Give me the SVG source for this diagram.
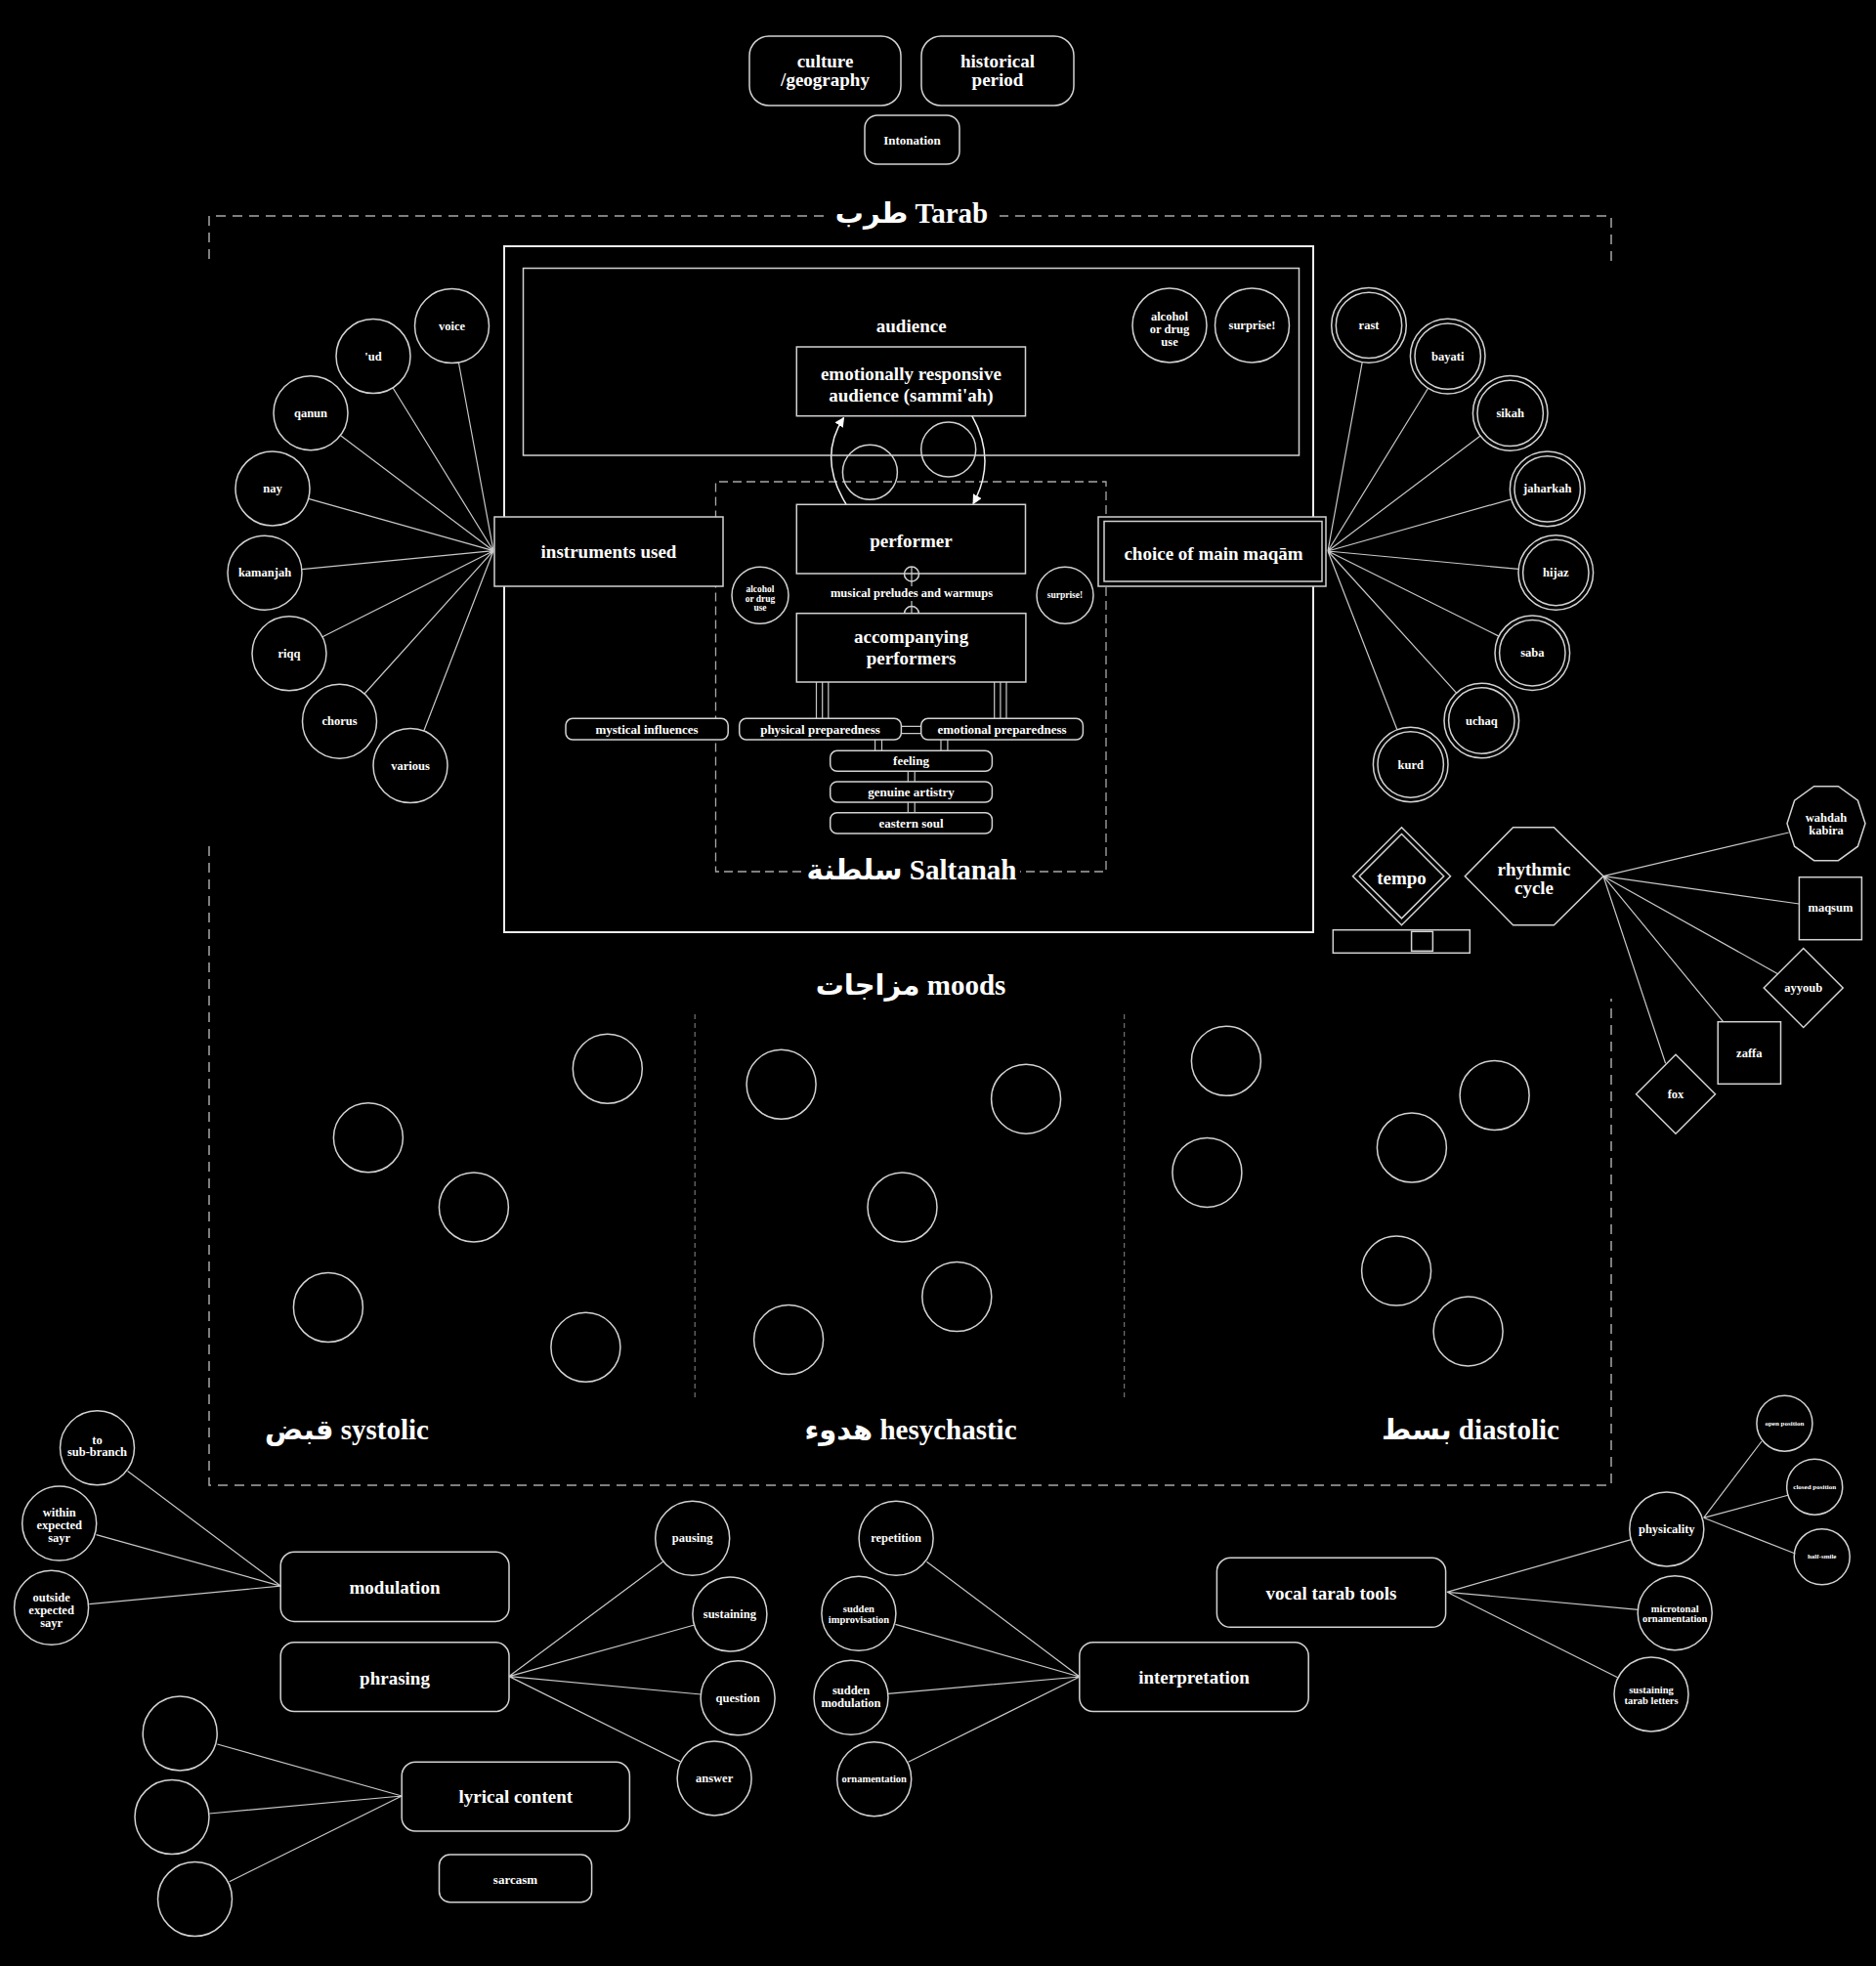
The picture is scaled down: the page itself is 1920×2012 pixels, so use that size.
<svg xmlns="http://www.w3.org/2000/svg" width="1920" height="2012" viewBox="0 0 1920 2012">
<defs>
<style>
.bg{fill:#000}
.n{fill:none;stroke:#d2d2d2;stroke-width:1.5}
.nb{fill:#000;stroke:#d2d2d2;stroke-width:1.5}
.outer{fill:none;stroke:#ececec;stroke-width:2}
.c{fill:none;stroke:#c8c8c8;stroke-width:1.2}
.dash{fill:none;stroke:#a8a8a8;stroke-width:1.5;stroke-dasharray:10 7}
.dash2{fill:none;stroke:#a8a8a8;stroke-width:1.3;stroke-dasharray:9 5}
.div{fill:none;stroke:#8a8a8a;stroke-width:1;stroke-dasharray:5 4}
.t{font-family:"Liberation Serif","DejaVu Serif",serif;font-weight:bold;fill:#fff;text-anchor:middle;dominant-baseline:central}
.ar{font-family:"Liberation Serif","DejaVu Sans",serif;font-weight:bold;fill:#fff;text-anchor:middle}
.s17{font-size:19px}
.s12{font-size:12.5px}
.s11{font-size:13px}
.s10{font-size:10.5px}
.s9{font-size:9.5px}
.s7{font-size:7px}
.h{font-size:29px}
</style>
<marker id="arr" viewBox="0 0 10 10" refX="9" refY="5" markerWidth="10" markerHeight="10" markerUnits="userSpaceOnUse" orient="auto">
<path d="M0,0 L10,5 L0,10 z" fill="#fff"/>
</marker>
</defs>
<rect class="bg" x="0" y="0" width="1920" height="2012"/>

<!-- frames -->
<g id="tarab-frame">
<path class="dash" d="M843,221 H214 V267 M214,866 V1520 H1649 V1022 M1649,267 V221 H1023"/>
<text class="ar h" x="933" y="228">طرب Tarab</text>
</g>
<g id="saltanah-frame">
<path class="dash2" d="M820,892 H732.5 V493 H1132 V892 H1044"/>
<text class="ar h" x="933" y="900">سلطنة Saltanah</text>
</g>
<g id="moods-frame">
<text class="ar h" x="932" y="1018">مزاجات moods</text>
<path class="div" d="M711.2,1038 V1432.6 M1150.7,1038 V1432.6"/>
<text class="ar h" x="355" y="1473">قبض systolic</text>
<text class="ar h" x="932" y="1473">هدوء hesychastic</text>
<text class="ar h" x="1505" y="1473">بسط diastolic</text>
</g>
<g id="outer-box"><rect class="outer" x="516" y="252" width="828" height="702"/></g>

<!-- connectors -->
<g id="connectors">
<path class="c" d="M505,563.7 L469.4,371 M505,563.7 L402,396.8 M505,563.7 L348.3,445.6 M505,563.7 L315.6,510.3 M505,563.7 L308.8,582.6 M505,563.7 L330,651.7 M505,563.7 L373,710 M505,563.7 L433.7,748.2"/>
<path class="c" d="M1359,564 L1394.2,370.6 M1359,564 L1461.6,397.2 M1359,564 L1515.1,446 M1359,564 L1546.8,510.8 M1359,564 L1554.2,582.4 M1359,564 L1534,651.1 M1359,564 L1490.6,709.1 M1359,564 L1429.9,746.8"/>
<path class="c" d="M1641,896.7 L1830.7,852 M1641,896.7 L1841.4,925 M1641,896.7 L1819.6,996.7 M1641,896.7 L1763.6,1045.7 M1641,896.7 L1704.6,1088.3"/>
<path d="M866,516 Q836.6,468.5 863.5,427.5" fill="none" stroke="#f0f0f0" stroke-width="1.5" marker-end="url(#arr)"/>
<path d="M994.8,425.7 Q1020.6,471 996,515.5" fill="none" stroke="#f0f0f0" stroke-width="1.5" marker-end="url(#arr)"/>
<path class="c" d="M933,580 V600 M933,615 V635"/>
<circle class="n" cx="933" cy="587.5" r="7.5"/>
<circle class="n" cx="933" cy="628" r="7.5"/>
<path class="c" d="M835.5,698 V735.3 M841.7,698 V735.3 M847.8,698 V735.3 M1017.7,698 V735.3 M1023.9,698 V735.3 M1030,698 V735.3"/>
<path class="c" d="M922.4,743.3 H942.7 M922.4,750.7 H942.7 M895.6,757 V768.3 M902.5,757 V768.3 M963,757 V768.3 M969.9,757 V768.3 M929.3,789.3 V800 M936.2,789.3 V800 M929.3,821 V831.7 M936.2,821 V831.7"/>
<path class="c" d="M287.2,1623.1 L130.6,1505.5 M287.2,1623.1 L98.5,1570.6 M287.2,1623.1 L91.3,1641.6"/>
<path class="c" d="M521,1715.6 L678.6,1598.3 M521,1715.6 L710.7,1663 M521,1715.6 L717.3,1734 M521,1715.6 L696.4,1802.9"/>
<path class="c" d="M411.2,1838 L222.4,1785 M411.2,1838 L214.3,1856 M411.2,1838 L234.7,1925.7"/>
<path class="c" d="M1105,1716 L948.4,1598.3 M1105,1716 L916.4,1662.3 M1105,1716 L908.8,1733.3 M1105,1716 L929.5,1803.3"/>
<path class="c" d="M1480.9,1629.3 L1669.3,1575.7 M1480.9,1629.3 L1676.7,1647.3 M1480.9,1629.3 L1655.6,1716.7"/>
<path class="c" d="M1743.6,1553.3 L1803,1475 M1743.6,1553.3 L1830.8,1530 M1743.6,1553.3 L1837.4,1590"/>
</g>

<!-- top nodes -->
<g id="culture"><rect class="n" x="767" y="37" width="155" height="71" rx="20"/><text class="t s17" x="844.5" y="62.3">culture</text><text class="t s17" x="844.5" y="81.7">/geography</text></g>
<g id="historical"><rect class="n" x="943" y="37" width="156" height="71" rx="20"/><text class="t s17" x="1021" y="62.3">historical</text><text class="t s17" x="1021" y="81.7">period</text></g>
<g id="intonation"><rect class="n" x="885" y="118" width="97" height="50" rx="13"/><text class="t s11" x="933.5" y="143">Intonation</text></g>

<!-- audience -->
<g id="audience"><rect class="n" x="535.5" y="274.5" width="794" height="191.5"/><text class="t s17" x="932.7" y="333">audience</text></g>
<g id="sammiah"><rect class="nb" x="815.3" y="355" width="234.2" height="70.7"/><text class="t s17" x="932.4" y="382.7">emotionally responsive</text><text class="t s17" x="932.4" y="404">audience (sammi'ah)</text></g>
<g id="aud-alcohol"><circle class="n" cx="1197" cy="333" r="38"/><text class="t s12" x="1197" y="324">alcohol</text><text class="t s12" x="1197" y="337">or drug</text><text class="t s12" x="1197" y="350">use</text></g>
<g id="aud-surprise"><circle class="n" cx="1281.5" cy="333" r="38"/><text class="t s12" x="1281.5" y="333">surprise!</text></g>
<g id="blank-a"><circle class="n" cx="890.4" cy="483.3" r="28"/></g>
<g id="blank-b"><circle class="n" cx="970.7" cy="460" r="28"/></g>

<!-- saltanah -->
<g id="instruments"><rect class="nb" x="506" y="529" width="234" height="71"/><text class="t s17" x="623" y="564.5">instruments used</text></g>
<g id="performer"><rect class="n" x="815.3" y="516.3" width="234.2" height="70.7"/><text class="t s17" x="932.4" y="553">performer</text></g>
<g id="maqam-choice"><rect class="nb" x="1124" y="529" width="233" height="71"/><rect class="n" x="1130" y="533.5" width="223" height="61.5"/><text class="t s17" x="1242" y="566">choice of main maqām</text></g>
<g id="preludes"><text class="t s12" x="933" y="607">musical preludes and warmups</text></g>
<g id="sal-alcohol"><circle class="n" cx="778" cy="609.3" r="29"/><text class="t s9" x="778" y="603.3">alcohol</text><text class="t s9" x="778" y="612.7">or drug</text><text class="t s9" x="778" y="622.3">use</text></g>
<g id="sal-surprise"><circle class="n" cx="1090" cy="609.3" r="29"/><text class="t s9" x="1090" y="609.3">surprise!</text></g>
<g id="accompanying"><rect class="nb" x="815.3" y="627.7" width="234.6" height="70.3"/><text class="t s17" x="932.6" y="651.7">accompanying</text><text class="t s17" x="932.6" y="673.3">performers</text></g>
<g id="mystical"><rect class="nb" x="579" y="735.3" width="166.2" height="21.7" rx="7"/><text class="t s11" x="662" y="746">mystical influences</text></g>
<g id="physical"><rect class="nb" x="756.7" y="735.3" width="165.7" height="21.7" rx="7"/><text class="t s11" x="839.5" y="746">physical preparedness</text></g>
<g id="emotional"><rect class="nb" x="942.7" y="735.3" width="165.7" height="21.7" rx="7"/><text class="t s11" x="1025.5" y="746">emotional preparedness</text></g>
<g id="feeling"><rect class="nb" x="849.7" y="768.3" width="165.7" height="21" rx="7"/><text class="t s11" x="932.5" y="778.8">feeling</text></g>
<g id="genuine"><rect class="nb" x="849.7" y="800" width="165.7" height="21" rx="7"/><text class="t s11" x="932.5" y="810.5">genuine artistry</text></g>
<g id="eastern"><rect class="nb" x="849.7" y="831.7" width="165.7" height="21.3" rx="7"/><text class="t s11" x="932.5" y="842.3">eastern soul</text></g>

<!-- instruments circles -->
<g id="voice"><circle class="n" cx="462.5" cy="333.6" r="38"/><text class="t s12" x="462.5" y="333.6">voice</text></g>
<g id="ud"><circle class="n" cx="382" cy="364.5" r="38"/><text class="t s12" x="382" y="364.5">'ud</text></g>
<g id="qanun"><circle class="n" cx="318" cy="422.7" r="38"/><text class="t s12" x="318" y="422.7">qanun</text></g>
<g id="nay"><circle class="n" cx="279" cy="500" r="38"/><text class="t s12" x="279" y="500">nay</text></g>
<g id="kamanjah"><circle class="n" cx="271" cy="586.2" r="38"/><text class="t s12" x="271" y="586.2">kamanjah</text></g>
<g id="riqq"><circle class="n" cx="296" cy="668.8" r="38"/><text class="t s12" x="296" y="668.8">riqq</text></g>
<g id="chorus"><circle class="n" cx="347.5" cy="738.2" r="38"/><text class="t s12" x="347.5" y="738.2">chorus</text></g>
<g id="various"><circle class="n" cx="420" cy="783.6" r="38"/><text class="t s12" x="420" y="783.6">various</text></g>

<!-- maqam circles -->
<g id="rast"><circle class="n" cx="1401" cy="332.9" r="38.3"/><circle class="n" cx="1401" cy="332.9" r="33.7"/><text class="t s12" x="1401" y="332.9">rast</text></g>
<g id="bayati"><circle class="n" cx="1481.7" cy="364.6" r="38.3"/><circle class="n" cx="1481.7" cy="364.6" r="33.7"/><text class="t s12" x="1481.7" y="364.6">bayati</text></g>
<g id="sikah"><circle class="n" cx="1545.7" cy="422.9" r="38.3"/><circle class="n" cx="1545.7" cy="422.9" r="33.7"/><text class="t s12" x="1545.7" y="422.9">sikah</text></g>
<g id="jaharkah"><circle class="n" cx="1583.7" cy="500.4" r="38.3"/><circle class="n" cx="1583.7" cy="500.4" r="33.7"/><text class="t s12" x="1583.7" y="500.4">jaharkah</text></g>
<g id="hijaz"><circle class="n" cx="1592.3" cy="586" r="38.3"/><circle class="n" cx="1592.3" cy="586" r="33.7"/><text class="t s12" x="1592.3" y="586">hijaz</text></g>
<g id="saba"><circle class="n" cx="1568.3" cy="668.2" r="38.3"/><circle class="n" cx="1568.3" cy="668.2" r="33.7"/><text class="t s12" x="1568.3" y="668.2">saba</text></g>
<g id="uchaq"><circle class="n" cx="1516.3" cy="737.5" r="38.3"/><circle class="n" cx="1516.3" cy="737.5" r="33.7"/><text class="t s12" x="1516.3" y="737.5">uchaq</text></g>
<g id="kurd"><circle class="n" cx="1443.7" cy="782.5" r="38.3"/><circle class="n" cx="1443.7" cy="782.5" r="33.7"/><text class="t s12" x="1443.7" y="782.5">kurd</text></g>

<!-- tempo & rhythm -->
<g id="tempo"><polygon class="n" points="1434.5,846.7 1484.5,896.7 1434.5,946.7 1384.5,896.7"/><polygon class="n" points="1434.5,853.5 1477.7,896.7 1434.5,939.9 1391.3,896.7"/><text class="t s17" x="1434.5" y="898">tempo</text></g>
<g id="tempo-slider"><rect class="n" x="1364.3" y="951.7" width="140" height="23.6"/><rect class="n" x="1444.6" y="953.3" width="21.8" height="20"/></g>
<g id="rhythmic-cycle"><polygon class="n" points="1499.3,896.7 1548.6,846.7 1590.4,846.7 1641,896.7 1590.4,946.7 1548.6,946.7"/><text class="t s17" x="1570" y="889.3">rhythmic</text><text class="t s17" x="1570" y="908.3">cycle</text></g>
<g id="wahdah"><polygon class="n" points="1909,842.7 1901.4,819.2 1881.4,804.7 1856.6,804.7 1836.6,819.2 1829,842.7 1836.6,866.2 1856.6,880.7 1881.4,880.7 1901.4,866.2"/><text class="t s12" x="1869" y="837.3">wahdah</text><text class="t s12" x="1869" y="850">kabira</text></g>
<g id="maqsum"><rect class="n" x="1841.4" y="897.7" width="64" height="64"/><text class="t s12" x="1873.4" y="929">maqsum</text></g>
<g id="ayyoub"><polygon class="n" points="1845.7,970.5 1886.2,1011 1845.7,1051.5 1805.2,1011"/><text class="t s12" x="1845.7" y="1011">ayyoub</text></g>
<g id="zaffa"><rect class="n" x="1758.2" y="1045.7" width="64.3" height="63.6"/><text class="t s12" x="1790.3" y="1077.5">zaffa</text></g>
<g id="fox"><polygon class="n" points="1715,1079.2 1755.5,1119.7 1715,1160.2 1674.5,1119.7"/><text class="t s12" x="1715" y="1119.7">fox</text></g>

<!-- moods circles -->
<g id="moods-circles">
<circle class="n" cx="621.8" cy="1093.8" r="35.5"/>
<circle class="n" cx="376.9" cy="1164.3" r="35.5"/>
<circle class="n" cx="484.9" cy="1235.5" r="35.5"/>
<circle class="n" cx="335.9" cy="1338" r="35.5"/>
<circle class="n" cx="599.4" cy="1378.8" r="35.5"/>
<circle class="n" cx="799.6" cy="1109.8" r="35.5"/>
<circle class="n" cx="1050.1" cy="1124.7" r="35.5"/>
<circle class="n" cx="923.5" cy="1235.5" r="35.5"/>
<circle class="n" cx="979.3" cy="1327.1" r="35.5"/>
<circle class="n" cx="807.1" cy="1371.1" r="35.5"/>
<circle class="n" cx="1254.9" cy="1085.8" r="35.5"/>
<circle class="n" cx="1235.4" cy="1199.9" r="35.5"/>
<circle class="n" cx="1444.9" cy="1174.5" r="35.5"/>
<circle class="n" cx="1529.6" cy="1121" r="35.5"/>
<circle class="n" cx="1429.1" cy="1300.6" r="35.5"/>
<circle class="n" cx="1502.6" cy="1362.4" r="35.5"/>
</g>

<!-- bottom left -->
<g id="sub-branch"><circle class="n" cx="99.5" cy="1481.8" r="38"/><text class="t s12" x="99.5" y="1473.7">to</text><text class="t s12" x="99.5" y="1486.2">sub-branch</text></g>
<g id="within-sayr"><circle class="n" cx="60.7" cy="1559.1" r="38"/><text class="t s12" x="60.7" y="1547.6">within</text><text class="t s12" x="60.7" y="1560.6">expected</text><text class="t s12" x="60.7" y="1573.5">sayr</text></g>
<g id="outside-sayr"><circle class="n" cx="52.6" cy="1645.3" r="38"/><text class="t s12" x="52.6" y="1635">outside</text><text class="t s12" x="52.6" y="1648">expected</text><text class="t s12" x="52.6" y="1660.9">sayr</text></g>
<g id="modulation"><rect class="n" x="287.2" y="1588.3" width="233.8" height="71.1" rx="14"/><text class="t s17" x="404" y="1624.2">modulation</text></g>
<g id="phrasing"><rect class="n" x="287.2" y="1680.8" width="233.8" height="70.7" rx="14"/><text class="t s17" x="404" y="1717">phrasing</text></g>
<g id="pausing"><circle class="n" cx="708.7" cy="1574.3" r="38"/><text class="t s12" x="708.7" y="1574.3">pausing</text></g>
<g id="sustaining"><circle class="n" cx="746.9" cy="1652" r="38"/><text class="t s12" x="746.9" y="1652">sustaining</text></g>
<g id="question"><circle class="n" cx="755.1" cy="1737.8" r="38"/><text class="t s12" x="755.1" y="1737.8">question</text></g>
<g id="answer"><circle class="n" cx="731.1" cy="1819.9" r="38"/><text class="t s12" x="731.1" y="1819.9">answer</text></g>
<g id="lyrical"><rect class="n" x="411.2" y="1803.3" width="233.2" height="70.7" rx="14"/><text class="t s17" x="527.8" y="1838.8">lyrical content</text></g>
<g id="lyric-1"><circle class="n" cx="184.2" cy="1774" r="38"/></g>
<g id="lyric-2"><circle class="n" cx="176" cy="1859.5" r="38"/></g>
<g id="lyric-3"><circle class="n" cx="199.5" cy="1943.5" r="38"/></g>
<g id="sarcasm"><rect class="n" x="449.5" y="1898" width="156.1" height="48.8" rx="11"/><text class="t s11" x="527.5" y="1923.2">sarcasm</text></g>

<!-- bottom middle/right -->
<g id="repetition"><circle class="n" cx="917.1" cy="1574.3" r="38"/><text class="t s12" x="917.1" y="1574.3">repetition</text></g>
<g id="improvisation"><circle class="n" cx="878.9" cy="1651.3" r="38"/><text class="t s10" x="878.9" y="1646.7">sudden</text><text class="t s10" x="878.9" y="1657.7">improvisation</text></g>
<g id="sudden-modulation"><circle class="n" cx="871" cy="1737.3" r="38"/><text class="t s12" x="871" y="1730">sudden</text><text class="t s12" x="871" y="1742.7">modulation</text></g>
<g id="ornamentation"><circle class="n" cx="894.7" cy="1820.7" r="38"/><text class="t s10" x="894.7" y="1820.7">ornamentation</text></g>
<g id="interpretation"><rect class="n" x="1104.8" y="1680.7" width="234.4" height="70.8" rx="14"/><text class="t s17" x="1222" y="1716.5">interpretation</text></g>
<g id="vocal-tools"><rect class="n" x="1245.4" y="1594.3" width="234.2" height="71" rx="14"/><text class="t s17" x="1362.5" y="1630.5">vocal tarab tools</text></g>
<g id="physicality"><circle class="n" cx="1705.8" cy="1565" r="38"/><text class="t s12" x="1705.8" y="1565">physicality</text></g>
<g id="microtonal"><circle class="n" cx="1714.2" cy="1650.7" r="38"/><text class="t s10" x="1714.2" y="1646">microtonal</text><text class="t s10" x="1714.2" y="1656.7">ornamentation</text></g>
<g id="tarab-letters"><circle class="n" cx="1690" cy="1734" r="38"/><text class="t s10" x="1690" y="1729.3">sustaining</text><text class="t s10" x="1690" y="1740.3">tarab letters</text></g>
<g id="open-position"><circle class="n" cx="1826.4" cy="1456.7" r="28.5"/><text class="t s7" x="1826.4" y="1456.7">open position</text></g>
<g id="closed-position"><circle class="n" cx="1857.2" cy="1521.7" r="28.5"/><text class="t s7" x="1857.2" y="1521.7">closed position</text></g>
<g id="half-smile"><circle class="n" cx="1864.7" cy="1593.3" r="28.5"/><text class="t s7" x="1864.7" y="1593.3">half-smile</text></g>
</svg>
